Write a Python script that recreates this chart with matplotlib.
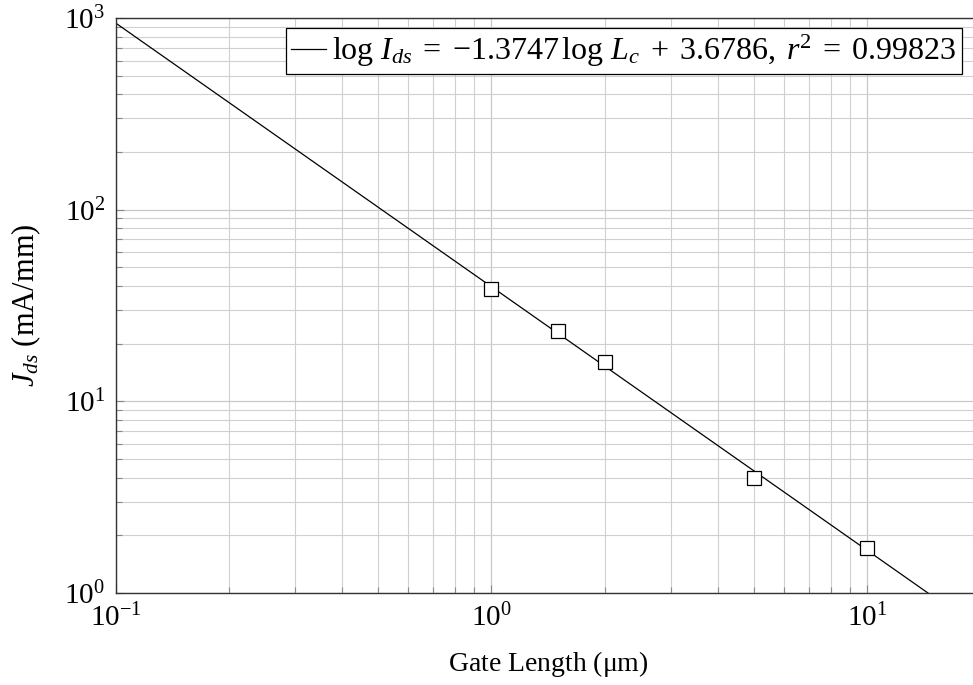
import numpy as np
import matplotlib.pyplot as plt

plt.rcParams['font.family'] = 'Liberation Serif'
plt.rcParams['mathtext.fontset'] = 'custom'
plt.rcParams['mathtext.rm'] = 'Liberation Serif'
plt.rcParams['mathtext.it'] = 'Liberation Serif:italic'
plt.rcParams['font.size'] = 21

# measured drain current density vs gate length
gate_length = [1.0, 1.5, 2.0, 5.0, 10.0]   # um
current_density = [38.5, 23.3, 16.0, 3.98, 1.72]  # mA/mm

# power-law fit in log10 space
fit_slope = -1.3747
fit_offset = 1.598

fig = plt.figure(figsize=(9.73, 6.85), dpi=100)
ax = fig.add_axes([0.1192, 0.1343, 0.8880, 0.8394])

xs = np.logspace(-1, np.log10(20), 200)
ax.plot(xs, 10 ** (fit_slope * np.log10(xs) + fit_offset), color='black', lw=0.9,
        label=r'$\log\,I_{ds}\;=\;{-}1.3747\,\log\,L_c\;+\;3.6786,\;r^2\;=\;0.99823$')
ax.plot(gate_length, current_density, ls='none', marker='s', ms=10,
        mfc='white', mec='black', mew=0.9, zorder=5)

ax.set_xscale('log')
ax.set_yscale('log')
ax.set_xlim(0.1, 20)
ax.set_ylim(1, 1000)

ax.grid(True, which='major', color='#c8c8c8', lw=0.9)
ax.grid(True, which='minor', color='#d0d0d0', lw=0.8)
ax.tick_params(which='both', direction='in', color='#888888', width=0.8)
ax.tick_params(which='major', length=6, pad=8)
ax.tick_params(which='minor', length=4)
for s in ax.spines.values():
    s.set_color('#333333')
    s.set_linewidth(1.0)

ax.set_xlabel(r'Gate Length ($\mathrm{\mu}$m)', fontsize=20, labelpad=12)
ax.set_ylabel(r'$J_{ds}$ (mA/mm)', fontsize=22, labelpad=15)

leg = ax.legend(loc='upper right', bbox_to_anchor=(0.979, 0.983), fancybox=False,
                edgecolor='black', framealpha=1, handlelength=1.1, handletextpad=0.2,
                borderpad=0.15, borderaxespad=0.0, fontsize=23)
leg.get_frame().set_linewidth(0.9)

fig.savefig('out.png', dpi=100)
